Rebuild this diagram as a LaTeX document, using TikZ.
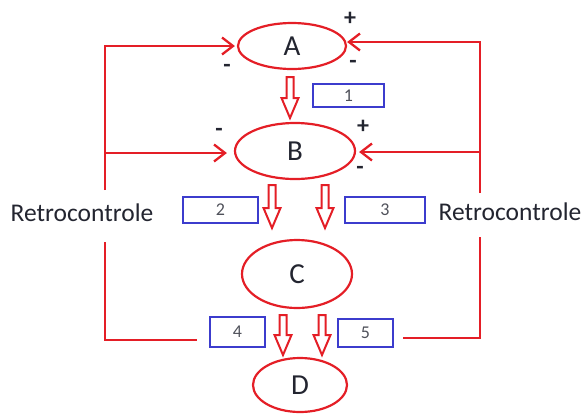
\documentclass[tikz,border=0pt]{standalone}
\usepackage{fontspec}
\setmainfont{Carlito}
\usetikzlibrary{shapes.geometric,arrows.meta}
\definecolor{rd}{RGB}{228,30,38}
\definecolor{bl}{RGB}{60,60,205}
\definecolor{tx}{RGB}{35,37,48}
\newcommand{\blockarr}[4]{% name, x, ytop, ybottom
  \draw[barr] (#2-3.5,#3) -- (#2+3.5,#3) -- (#2+3.5,#4-20) -- (#2+8.5,#4-20) -- (#2,#4) -- (#2-8.5,#4-20) -- (#2-3.5,#4-20) -- cycle;
  \coordinate (#1) at (#2,#4);}
\begin{document}
\begin{tikzpicture}[x=1pt,y=-1pt,
  ell/.style={ellipse, draw=rd, line width=2.2pt, inner sep=0pt, text=tx, font=\fontsize{29}{30}\selectfont},
  numbox/.style={draw=bl, line width=2.2pt, inner sep=0pt, text=tx!80, font=\fontsize{18}{18}\selectfont},
  rline/.style={draw=rd, line width=2.3pt},
  rarr/.style={rline, -{Straight Barb[length=11pt,width=17pt]}},
  barr/.style={draw=rd, line width=2pt, line join=miter},
  sign/.style={text=tx, inner sep=0pt, font=\bfseries\fontsize{24}{24}\selectfont},
  lbl/.style={text=tx, inner sep=0pt, font=\fontsize{25.5}{26}\selectfont}]
\useasboundingbox (0,0) rectangle (584,416);
% ellipses
\node[ell, minimum width=108pt, minimum height=46pt] (A) at (292,46) {A};
\node[ell, minimum width=120pt, minimum height=56pt] (B) at (295,151) {B};
\node[ell, minimum width=110pt, minimum height=68pt] (C) at (297,274) {C};
\node[ell, minimum width=94pt, minimum height=54pt] (D) at (300,385) {D};
% boxes
\node[numbox, minimum width=71pt, minimum height=23pt] (b1) at (348.5,95.5) {1};
\node[numbox, minimum width=75pt, minimum height=26pt] (b2) at (220.5,210) {2};
\node[numbox, minimum width=80pt, minimum height=26pt] (b3) at (385,210) {3};
\node[numbox, minimum width=55pt, minimum height=30pt] (b4) at (237.5,332) {4};
\node[numbox, minimum width=55pt, minimum height=28pt] (b5) at (365.5,333) {5};
% labels
\node[lbl] (rl) at (82,213) {Retrocontrole};
\node[lbl] (rr) at (510,212) {Retrocontrole};
% block arrows
\blockarr{ab}{290}{77}{118}
\blockarr{bc1}{272}{185}{228}
\blockarr{bc2}{325}{185}{228}
\blockarr{cd1}{283}{315}{355}
\blockarr{cd2}{322}{315}{355}
% left loop
\coordinate (lt) at (105,46);
\coordinate (lm) at (105,153);
\coordinate (lg1) at (105,190);
\coordinate (lg2) at (105,242);
\coordinate (lb) at (105,340);
\coordinate (lbe) at (197,340);
\draw[rline] (lg1) -- (lm);
\draw[rarr] (lm) -- (lt) -- ([xshift=-2pt]A.west);
\draw[rarr] (lm) -- ([xshift=-7pt]B.west |- lm);
\draw[rline] (lg2) -- (lb) -- (lbe);
% right loop
\coordinate (rt) at (480,42);
\coordinate (rm) at (480,152);
\coordinate (rg1) at (480,193);
\coordinate (rg2) at (480,237);
\coordinate (rb) at (480,338);
\coordinate (rbe) at (403,338);
\draw[rline] (rg1) -- (rm);
\draw[rarr] (rm) -- (rt) -- (A.east |- rt);
\draw[rarr] (rm) -- ([xshift=3pt]B.east |- rm);
\draw[rline] (rg2) -- (rb) -- (rbe);
% signs
\node[sign] (sa1) at (227,68) {-};
\node[sign] (sa2) at (350,19) {+};
\node[sign] (sa3) at (353,64) {-};
\node[sign] (sb1) at (219,132) {-};
\node[sign] (sb2) at (363,127) {+};
\node[sign] (sb3) at (360,170) {-};
\end{tikzpicture}
\end{document}
